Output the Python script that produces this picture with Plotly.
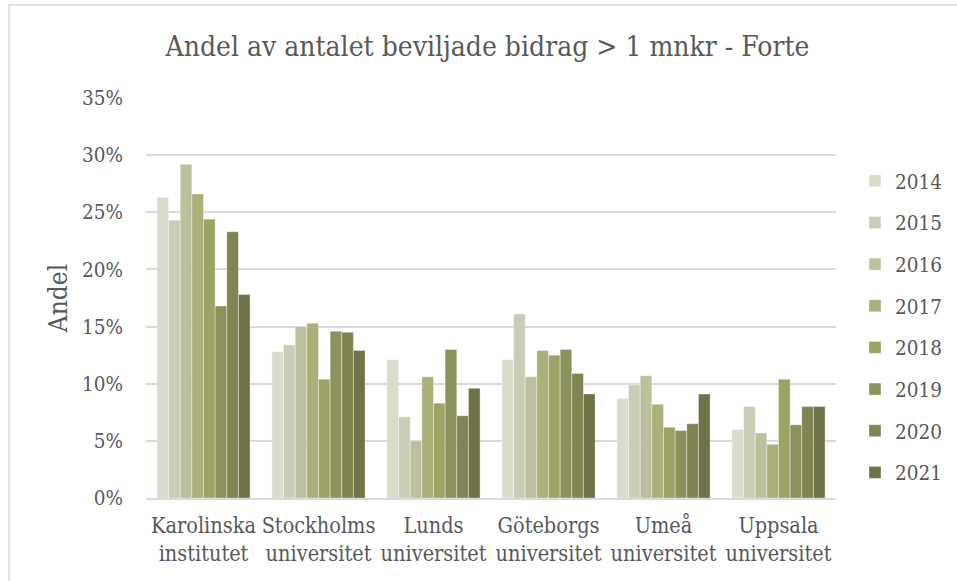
import plotly.graph_objects as go

categories = ["Karolinska<br>institutet", "Stockholms<br>universitet", "Lunds<br>universitet",
              "Göteborgs<br>universitet", "Umeå<br>universitet", "Uppsala<br>universitet"]
years = ["2014", "2015", "2016", "2017", "2018", "2019", "2020", "2021"]

v2014 = [0.263, 0.128, 0.121, 0.121, 0.087, 0.060]
v2015 = [0.243, 0.134, 0.071, 0.161, 0.099, 0.080]
v2016 = [0.292, 0.150, 0.050, 0.106, 0.107, 0.057]
v2017 = [0.266, 0.153, 0.106, 0.129, 0.082, 0.047]
v2018 = [0.244, 0.104, 0.083, 0.125, 0.062, 0.104]
v2019 = [0.168, 0.146, 0.130, 0.130, 0.059, 0.064]
v2020 = [0.233, 0.145, 0.072, 0.109, 0.065, 0.080]
v2021 = [0.178, 0.129, 0.096, 0.091, 0.091, 0.080]
series = [v2014, v2015, v2016, v2017, v2018, v2019, v2020, v2021]

colors = ["#DADDCB", "#CACDB5", "#BDC09D", "#ABAF7A", "#9DA265", "#8C925C", "#7F8452", "#707248"]

GRAY = "#595959"
SERIF = "DejaVu Serif Condensed"

fig = go.Figure()
for yr, vals, col in zip(years, series, colors):
    fig.add_trace(go.Bar(
        x=categories, y=vals, name=yr, legendgroup=yr,
        marker=dict(color=col, line=dict(color="rgba(255,255,255,0.6)", width=0.6)),
    ))

W, H = 957, 581
L, R, T, B = 146, 836, 98, 498
pw, ph = R - L, B - T

fig.update_layout(
    width=W, height=H,
    margin=dict(l=L, r=W - R, t=T, b=H - B, autoexpand=False),
    paper_bgcolor="white", plot_bgcolor="white",
    font=dict(family=SERIF, color=GRAY, size=20),
    title=dict(text="Andel av antalet beviljade bidrag > 1 mnkr - Forte",
               x=487.5 / W, xanchor="center", xref="container",
               y=1 - 46 / H, yanchor="middle", yref="container",
               font=dict(size=28, color=GRAY, family=SERIF)),
    barmode="group", bargap=0.19, bargroupgap=0,
    xaxis=dict(showgrid=False, showline=True, linecolor="#d9d9d9", linewidth=1.5,
               ticks="", ticklabelstandoff=7, tickangle=0,
               tickfont=dict(size=21.5, color=GRAY, family=SERIF)),
    yaxis=dict(range=[0, 0.35], dtick=0.05, tickformat=".0%",
               showgrid=True, gridcolor="#d9d9d9", gridwidth=1.5,
               zeroline=False, showline=False, ticks="",
               ticklabelstandoff=22,
               tickfont=dict(size=20.5, color=GRAY, family=SERIF),
               title=dict(text="Andel", standoff=6,
                          font=dict(size=26, color=GRAY, family=SERIF))),
    legend=dict(x=(855 - L) / pw, xanchor="left", y=(B - 327) / ph, yanchor="middle",
                traceorder="grouped", tracegroupgap=12,
                font=dict(size=20.5, color=GRAY, family=SERIF),
                bgcolor="rgba(0,0,0,0)", itemwidth=30),
    shapes=[dict(type="rect", xref="paper", yref="paper",
                 x0=(9 - L) / pw, x1=(980 - L) / pw,
                 y0=(B - 620) / ph, y1=(B - 5) / ph,
                 line=dict(color="#d9d9d9", width=1.5), fillcolor="rgba(0,0,0,0)",
                 layer="below")],
)

fig.write_html("out.html", config={"displayModeBar": False},
               post_script="document.body.style.margin='0';document.body.style.padding='0';")
